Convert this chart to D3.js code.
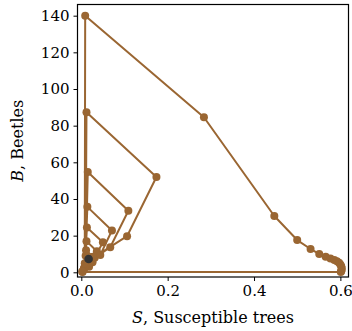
<!DOCTYPE html>
<html>
<head>
<meta charset="utf-8">
<script src="https://cdn.jsdelivr.net/npm/d3@7"></script>
<style>
  html, body { margin: 0; padding: 0; background: #fff; }
  svg { display: block; }
  text { font-family: "DejaVu Serif", serif; fill: #000; }
</style>
</head>
<body>
<div id="chart"></div>
<script>
// Trajectory of susceptible trees S vs beetles B
const S_values = [0.017, 0.026, 0.018, 0.006, 0.010, 0.022, 0.015, 0.006, 0.011, 0.027, 0.018, 0.007,
  0.012, 0.036, 0.025, 0.008, 0.013, 0.050, 0.031, 0.009, 0.014, 0.071, 0.044, 0.010,
  0.015, 0.109, 0.067, 0.010, 0.012, 0.174, 0.106, 0.008, 0.009, 0.284, 0.447, 0.500,
  0.531, 0.551, 0.566, 0.577, 0.586, 0.592, 0.597, 0.600, 0.602, 0.603, 0.603, 0.602,
  0.601, 0.003, 0.002];
const B_values = [7.3, 5.5, 3.0, 1.5, 9.0, 6.5, 3.8, 2.0, 12.0, 8.5, 5.0, 2.5,
  17.0, 11.5, 6.5, 3.0, 24.4, 16.4, 8.0, 3.5, 35.7, 22.8, 9.5, 4.0,
  54.7, 33.6, 13.7, 4.5, 87.3, 52.0, 19.7, 5.0, 140.0, 84.6, 30.7, 17.6,
  12.7, 10.0, 8.5, 7.5, 6.7, 6.0, 5.2, 4.3, 3.3, 2.3, 1.4, 0.7,
  0.1, 0.1, 0.5];
// Marked point (dark)
const markS = [0.017];
const markB = [7.3];
const xTicks = [0.0, 0.2, 0.4, 0.6];
const yTicks = [0, 20, 40, 60, 80, 100, 120, 140];

const W = 352, H = 331;
const m = { left: 77.5, top: 4.5, right: 348.5, bottom: 277 };
const lineColor = "#9a6632";

const svg = d3.select("#chart").append("svg").attr("width", W).attr("height", H);

const x = d3.scaleLinear().domain([-0.0088, 0.6188]).range([m.left, m.right]);
const y = d3.scaleLinear().domain([-2.56, 146.1]).range([m.bottom, m.top]);

const pts = S_values.map((s, i) => ({ s, b: B_values[i] }));

const line = d3.line().x(d => x(d.s)).y(d => y(d.b));
svg.append("path").datum(pts)
  .attr("d", line).attr("fill", "none")
  .attr("stroke", lineColor).attr("stroke-width", 2).attr("stroke-linejoin", "round");

svg.append("g").selectAll("circle").data(pts).join("circle")
  .attr("cx", d => x(d.s)).attr("cy", d => y(d.b)).attr("r", 4)
  .attr("fill", lineColor);

svg.append("g").selectAll("circle").data(markS.map((s, i) => ({ s, b: markB[i] }))).join("circle")
  .attr("cx", d => x(d.s)).attr("cy", d => y(d.b)).attr("r", 4.3)
  .attr("fill", "#333333");

// Axes
const xAxis = d3.axisBottom(x).tickValues(xTicks).tickFormat(d3.format(".1f")).tickSize(4).tickPadding(4);
const yAxis = d3.axisLeft(y).tickValues(yTicks).tickFormat(d3.format("d")).tickSize(4).tickPadding(4);

const gx = svg.append("g").attr("transform", `translate(0,${m.bottom})`).call(xAxis);
const gy = svg.append("g").attr("transform", `translate(${m.left},0)`).call(yAxis);
[gx, gy].forEach(g => {
  g.select(".domain").remove();
  g.selectAll(".tick line").attr("stroke", "#000").attr("stroke-width", 1);
  g.selectAll(".tick text").attr("font-family", "DejaVu Serif").attr("font-size", 15).attr("fill", "#000");
});

// Frame
svg.append("rect").attr("x", m.left).attr("y", m.top)
  .attr("width", m.right - m.left).attr("height", m.bottom - m.top)
  .attr("fill", "none").attr("stroke", "#000").attr("stroke-width", 1.2);

// Labels
const xl = svg.append("text").attr("x", (m.left + m.right) / 2).attr("y", 323)
  .attr("text-anchor", "middle").attr("font-size", 16);
xl.append("tspan").attr("font-style", "italic").text("S");
xl.append("tspan").text(", Susceptible trees");

const yl = svg.append("text").attr("transform", `translate(23,${(m.top + m.bottom) / 2}) rotate(-90)`)
  .attr("text-anchor", "middle").attr("font-size", 16);
yl.append("tspan").attr("font-style", "italic").text("B");
yl.append("tspan").text(", Beetles");
</script>
</body>
</html>
